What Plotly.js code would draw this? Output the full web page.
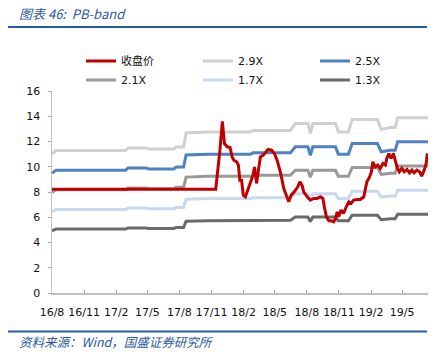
<!DOCTYPE html>
<html>
<head>
<meta charset="utf-8">
<script src="https://cdn.plot.ly/plotly-3.0.1.min.js"></script>
<style>html,body{margin:0;padding:0;background:#fff;}#chart{width:442px;height:357px;}</style>
</head>
<body>
<div id="chart"></div>
<script>
// Band dates (book value steps)
const bandDates = ['2016-08-01','2016-08-12','2017-02-28','2017-03-07','2017-04-28','2017-05-05','2017-07-16','2017-07-23','2017-08-13','2017-08-20','2017-10-21','2018-02-21','2018-02-28','2018-06-15','2018-06-29','2018-08-04','2018-08-11','2018-08-18','2018-10-22','2018-10-30','2018-11-28','2018-12-09','2019-02-19','2019-03-02','2019-03-28','2019-04-11','2019-04-18','2019-07-14'];
const band29 = [10.99,11.28,11.28,11.48,11.48,11.40,11.40,11.57,11.57,12.67,12.76,12.76,12.88,12.88,13.43,13.43,12.64,13.43,13.43,12.76,12.76,13.75,13.75,12.96,13.11,13.11,13.89,13.89];
const band25 = [9.48,9.73,9.73,9.90,9.90,9.83,9.83,9.98,9.98,10.93,11.00,11.00,11.10,11.10,11.58,11.58,10.90,11.58,11.58,11.00,11.00,11.85,11.85,11.18,11.30,11.30,11.98,11.98];
const band21 = [7.96,8.17,8.17,8.32,8.32,8.25,8.25,8.38,8.38,9.18,9.24,9.24,9.32,9.32,9.72,9.72,9.16,9.72,9.72,9.24,9.24,9.95,9.95,9.39,9.49,9.49,10.06,10.06];
const band17 = [6.44,6.61,6.61,6.73,6.73,6.68,6.68,6.78,6.78,7.43,7.48,7.48,7.55,7.55,7.87,7.87,7.41,7.87,7.87,7.48,7.48,8.06,8.06,7.60,7.68,7.68,8.14,8.14];
const band13 = [4.93,5.06,5.06,5.15,5.15,5.11,5.11,5.19,5.19,5.68,5.72,5.72,5.77,5.77,6.02,6.02,5.67,6.02,6.02,5.72,5.72,6.16,6.16,5.81,5.88,5.88,6.23,6.23];

// Closing price
const priceDates = ['2016-08-01','2017-11-13','2017-11-25','2017-12-02','2017-12-08','2017-12-16','2017-12-24','2017-12-30','2018-01-04','2018-01-12','2018-01-17','2018-01-21','2018-01-26','2018-01-31','2018-02-06','2018-02-13','2018-02-21','2018-02-28','2018-03-04','2018-03-10','2018-03-16','2018-03-21','2018-03-29','2018-04-05','2018-04-12','2018-04-22','2018-04-30','2018-05-08','2018-05-17','2018-05-27','2018-06-04','2018-06-10','2018-06-17','2018-06-26','2018-07-06','2018-07-12','2018-07-18','2018-07-23','2018-08-02','2018-08-11','2018-08-21','2018-08-30','2018-09-09','2018-09-16','2018-09-20','2018-09-26','2018-10-03','2018-10-10','2018-10-17','2018-10-22','2018-10-27','2018-10-31','2018-11-07','2018-11-14','2018-11-22','2018-11-29','2018-12-06','2018-12-13','2018-12-23','2019-01-01','2019-01-11','2019-01-15','2019-01-20','2019-01-27','2019-02-02','2019-02-06','2019-02-13','2019-02-20','2019-02-27','2019-03-07','2019-03-14','2019-03-18','2019-03-24','2019-03-30','2019-04-06','2019-04-11','2019-04-16','2019-04-23','2019-04-30','2019-05-07','2019-05-15','2019-05-22','2019-05-29','2019-06-04','2019-06-12','2019-06-20','2019-06-26','2019-07-03','2019-07-09','2019-07-12'];
const price = [8.22,8.22,11.31,13.6,11.84,11.58,11.53,10.78,10.52,10.39,10.13,8.94,8.94,7.75,7.62,8.15,8.81,9.34,9.99,8.68,9.87,10.78,10.92,11.18,11.37,11.31,11.05,10.5,9.6,8.28,7.68,7.22,7.75,8.02,8.41,8.81,8.54,8.02,7.62,7.36,7.49,7.49,7.62,7.49,6.83,6.04,5.72,5.72,5.64,5.91,6.43,6.04,6.57,6.3,6.83,7.22,7.1,7.36,7.41,7.41,7.62,8.15,8.81,9.15,9.6,10.39,9.99,10.13,9.87,10.26,10.13,10.66,11.05,10.66,11.05,10.52,9.99,9.6,9.87,9.6,9.79,9.52,9.73,9.52,9.73,9.6,9.26,9.73,10.26,11.05];

const tickVals = ['2016-08-01','2016-11-01','2017-02-01','2017-05-01','2017-08-01','2017-11-01','2018-02-01','2018-05-01','2018-08-01','2018-11-01','2019-02-01','2019-05-01'];
const tickText = ['16/8','16/11','17/2','17/5','17/8','17/11','18/2','18/5','18/8','18/11','19/2','19/5'];

const names = ['收盘价','2.9X','2.5X','2.1X','1.7X','1.3X'];
const colors = ['#c00000','#d0d0d0','#4f81c4','#999999','#c6d9f0','#6a6a6a'];
// legend column assignment: row-major 3 columns
const legendIds = ['legend','legend2','legend3','legend','legend2','legend3'];

const bands = [band29, band25, band21, band17, band13];
const traces = [];
bands.forEach((b, i) => {
  traces.push({
    x: bandDates, y: b, type: 'scatter', mode: 'lines', name: names[i+1],
    line: {color: colors[i+1], width: 3}, legend: legendIds[i+1], legendrank: i + 2, hoverinfo: 'skip'
  });
});
traces.push({
  x: priceDates, y: price, type: 'scatter', mode: 'lines', name: names[0],
  line: {color: colors[0], width: 3}, legend: legendIds[0], legendrank: 1, hoverinfo: 'skip'
});

const L = 52, R = 428, T = 91, B = 293;
const W = R - L, H = B - T;
const px = v => (v - L) / W;
const py = v => (B - v) / H;

const legFont = {family: 'DejaVu Sans, Noto Sans CJK SC, sans-serif', size: 11, color: '#111'};
const mkLegend = xpx => ({
  orientation: 'v', x: px(xpx), y: py(46.5), xanchor: 'left', yanchor: 'top',
  font: legFont, bgcolor: 'rgba(0,0,0,0)', borderwidth: 0, tracegroupgap: 0, traceorder: 'normal'
});

const tickFont = {family: 'DejaVu Sans, sans-serif', size: 11, color: '#111'};

const layout = {
  width: 442, height: 357,
  margin: {l: L, r: 442 - R, t: T, b: 357 - B},
  paper_bgcolor: '#fff', plot_bgcolor: '#fff',
  font: {family: 'DejaVu Sans, sans-serif', size: 11, color: '#111'},
  showlegend: true,
  legend: mkLegend(81),
  legend2: mkLegend(198),
  legend3: mkLegend(315),
  xaxis: {
    type: 'date', range: ['2016-08-01', '2019-07-14'],
    tickmode: 'array', tickvals: tickVals, ticktext: tickText, tickangle: 0,
    ticks: 'inside', ticklen: 3, tickcolor: '#a6a6a6', tickwidth: 1,
    ticklabelstandoff: 8,
    showline: true, linecolor: '#bfbfbf', linewidth: 1.5,
    showgrid: false, zeroline: false, automargin: false,
    tickfont: tickFont
  },
  yaxis: {
    range: [0, 16], dtick: 2, tick0: 0,
    ticks: 'outside', ticklen: 3, tickcolor: '#a6a6a6', tickwidth: 1,
    ticklabelstandoff: 5,
    showline: true, linecolor: '#bfbfbf', linewidth: 1.5,
    showgrid: false, zeroline: false, automargin: false,
    tickfont: tickFont
  },
  shapes: [
    {type: 'line', xref: 'paper', yref: 'paper', x0: px(8), x1: px(427), y0: py(27), y1: py(27), line: {color: '#2a5aa6', width: 2}},
    {type: 'line', xref: 'paper', yref: 'paper', x0: px(8), x1: px(427), y0: py(331.5), y1: py(331.5), line: {color: '#2a5aa6', width: 2}}
  ],
  annotations: [
    {xref: 'paper', yref: 'paper', x: px(17), y: py(13), xanchor: 'left', yanchor: 'middle', showarrow: false,
     text: '图表 46:  PB-band', font: {family: 'Noto Sans CJK SC, DejaVu Sans, sans-serif', size: 13, color: '#2a5aa6', style: 'italic'}},
    {xref: 'paper', yref: 'paper', x: px(17), y: py(341), xanchor: 'left', yanchor: 'middle', showarrow: false,
     text: '资料来源：Wind，国盛证券研究所', font: {family: 'Noto Sans CJK SC, DejaVu Sans, sans-serif', size: 12.5, color: '#2a5aa6', style: 'italic'}}
  ]
};

Plotly.newPlot('chart', traces, layout, {displayModeBar: false, staticPlot: true});
</script>
</body>
</html>
